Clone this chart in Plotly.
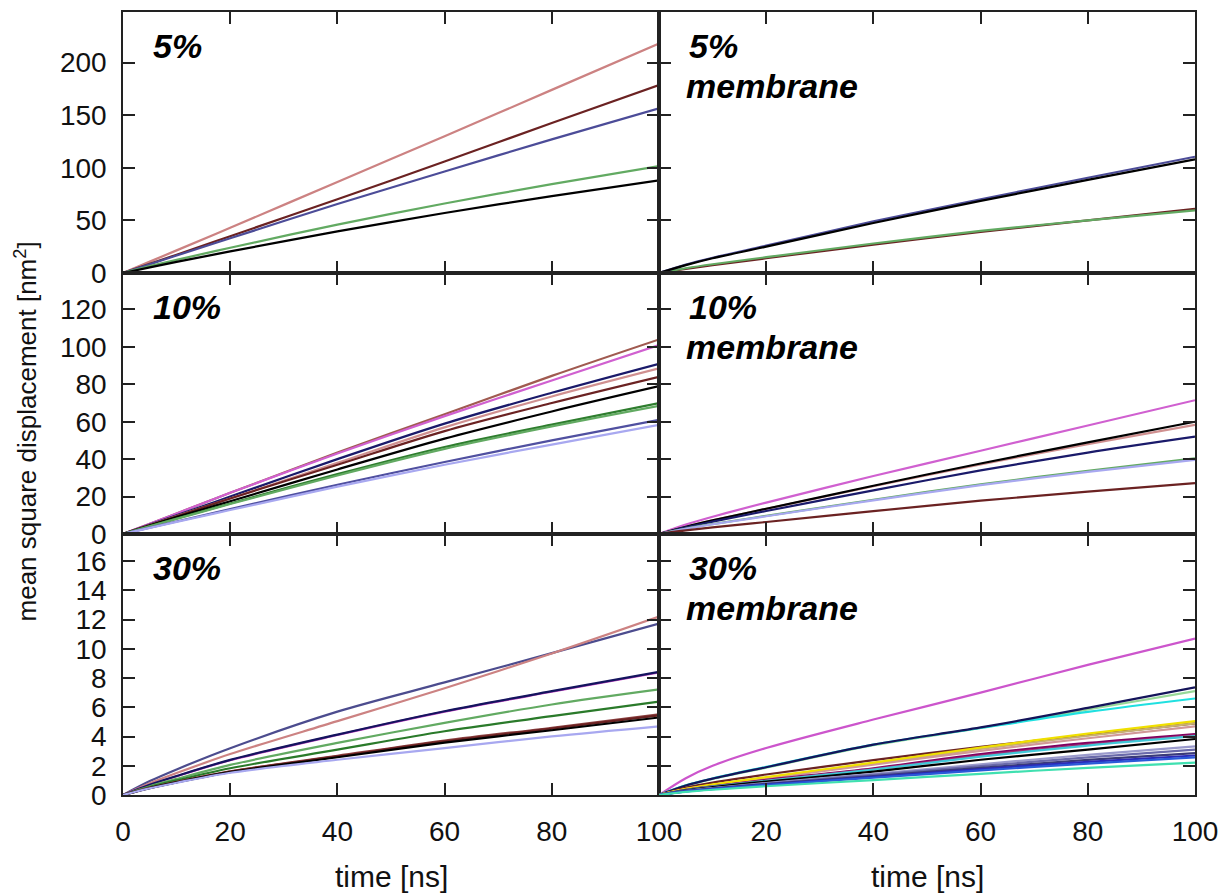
import plotly.graph_objects as go
from plotly.subplots import make_subplots

# Sampling times (ns) shared by every curve
t_ns = [0, 5, 10, 20, 40, 60, 80, 100]

# 5 %
colors_5 = ["#cc8282", "#6b2222", "#4c4c98", "#62aa62", "#000000"]
msd_5 = [
    [0, 10.8, 21.5, 43, 86.5, 130, 174, 218],
    [0, 8.7, 17.4, 35, 70, 106, 142.5, 178.5],
    [0, 8.3, 16.6, 33, 65.5, 96.5, 127, 156.5],
    [0, 6.5, 12.5, 24, 46, 66, 84.5, 101.5],
    [0, 5.3, 10.5, 20.5, 39.5, 57, 73, 88],
]

# 5 % membrane
colors_5m = ["#6b2222", "#62aa62", "#4c4c98", "#000000"]
msd_5m = [
    [0, 4, 7.5, 14, 27, 39, 50, 61],
    [0, 4.5, 8.3, 15, 28, 40, 50, 59.5],
    [0, 8, 14.5, 26, 49, 70, 90.5, 110.5],
    [0, 7.5, 14, 25, 47.5, 68.5, 88.5, 108],
]

# 10 %
colors_10 = ["#a05a50", "#d060d0", "#1a1a6a", "#d09090", "#6b2222",
             "#000000", "#2e7d2e", "#62aa62", "#5050a0", "#a8a8f0"]
msd_10 = [
    [0, 5.5, 11, 22, 43.5, 64, 84.5, 104],
    [0, 5.5, 11, 22, 43, 63, 82, 101],
    [0, 5, 10, 20, 40, 59, 75.5, 91],
    [0, 4.8, 9.6, 19, 38, 57, 73.5, 88.5],
    [0, 4.8, 9.5, 19, 37, 55, 70, 84],
    [0, 4.5, 9, 17.5, 34.5, 51, 65.5, 79],
    [0, 4.2, 8.3, 16.3, 32, 46.5, 58.5, 70],
    [0, 4.1, 8.1, 16, 31.3, 45.5, 57.5, 68.5],
    [0, 3.4, 6.7, 13.3, 26.3, 38.5, 50, 61],
    [0, 3.3, 6.5, 12.8, 25.3, 37, 47.8, 58.3],
]

# 10 % membrane
colors_10m = ["#d060d0", "#d09090", "#000000", "#1a1a6a",
              "#62aa62", "#a8a8f0", "#6b2222"]
msd_10m = [
    [0, 5, 9.2, 16.8, 31, 44.5, 58, 71.5],
    [0, 3.9, 7.3, 13.4, 25.5, 37.2, 48, 58.3],
    [0, 3.9, 7.3, 13.5, 25.8, 37.7, 49, 60],
    [0, 3.6, 6.6, 12.3, 23.3, 34, 43.5, 52],
    [0, 2.9, 5.3, 9.7, 18.3, 26.5, 33.8, 40.4],
    [0, 2.8, 5.2, 9.5, 18, 26.1, 33.2, 39.6],
    [0, 1.9, 3.5, 6.4, 12.2, 17.8, 22.6, 27.2],
]

# 30 %
colors_30 = ["#4c4c8e", "#cc8282", "#c040c0", "#14145e", "#62aa62",
             "#2a7a2a", "#8b4040", "#6b2222", "#000000", "#a8a8f0"]
msd_30 = [
    [0, 0.95, 1.75, 3.2, 5.7, 7.7, 9.7, 11.72],
    [0, 0.8, 1.5, 2.8, 5.05, 7.3, 9.68, 12.2],
    [0, 0.69, 1.28, 2.38, 4.1, 5.7, 7.06, 8.38],
    [0, 0.7, 1.3, 2.4, 4.13, 5.73, 7.1, 8.42],
    [0, 0.6, 1.1, 2.06, 3.56, 4.93, 6.19, 7.22],
    [0, 0.55, 1.0, 1.83, 3.1, 4.36, 5.39, 6.38],
    [0, 0.5, 0.9, 1.62, 2.68, 3.72, 4.6, 5.52],
    [0, 0.48, 0.88, 1.6, 2.64, 3.67, 4.54, 5.44],
    [0, 0.47, 0.86, 1.56, 2.58, 3.58, 4.43, 5.3],
    [0, 0.46, 0.84, 1.52, 2.41, 3.21, 4.01, 4.7],
]

# 30 % membrane
colors_30m = ["#cc55cc", "#98d898", "#20e0e0", "#14145a", "#6b2323",
              "#c8b070", "#d09898", "#f0e000", "#800060", "#a0286e",
              "#40c8d8", "#000000", "#9a9acc", "#6a6aaa", "#3a3a7a",
              "#2a2ab8", "#2a5ad8", "#40e0b0"]
msd_30m = [
    [0, 1.15, 2.0, 3.21, 5.16, 7.0, 8.9, 10.7],
    [0, 0.64, 1.1, 1.87, 3.4, 4.58, 5.85, 7.11],
    [0, 0.66, 1.13, 1.92, 3.44, 4.58, 5.68, 6.6],
    [0, 0.65, 1.12, 1.9, 3.44, 4.62, 5.96, 7.36],
    [0, 0.5, 0.85, 1.4, 2.38, 3.3, 4.1, 4.9],
    [0, 0.41, 0.7, 1.18, 2.15, 3.15, 4.05, 4.9],
    [0, 0.4, 0.68, 1.14, 2.08, 3.02, 3.88, 4.7],
    [0, 0.42, 0.72, 1.22, 2.22, 3.25, 4.2, 5.05],
    [0, 0.36, 0.6, 1.03, 1.83, 2.8, 3.56, 4.17],
    [0, 0.35, 0.58, 1.0, 1.78, 2.7, 3.45, 4.08],
    [0, 0.34, 0.57, 0.97, 1.74, 2.62, 3.38, 4.02],
    [0, 0.32, 0.54, 0.92, 1.6, 2.41, 3.1, 3.83],
    [0, 0.28, 0.48, 0.82, 1.45, 2.1, 2.75, 3.33],
    [0, 0.27, 0.46, 0.78, 1.38, 1.98, 2.57, 3.1],
    [0, 0.26, 0.44, 0.75, 1.3, 1.86, 2.4, 2.87],
    [0, 0.25, 0.42, 0.71, 1.24, 1.77, 2.27, 2.7],
    [0, 0.24, 0.4, 0.68, 1.18, 1.68, 2.15, 2.57],
    [0, 0.21, 0.36, 0.6, 1.02, 1.45, 1.86, 2.22],
]

row_ranges = [[0, 248], [0, 139.5], [0, 17.85]]
row_ticks = [
    [0, 50, 100, 150, 200],
    [0, 20, 40, 60, 80, 100, 120],
    [0, 2, 4, 6, 8, 10, 12, 14, 16],
]
x_ticks = [0, 20, 40, 60, 80, 100]
panel_labels = [("5%", False), ("5%", True), ("10%", False),
                ("10%", True), ("30%", False), ("30%", True)]

panels = [
    (1, 1, colors_5, msd_5), (1, 2, colors_5m, msd_5m),
    (2, 1, colors_10, msd_10), (2, 2, colors_10m, msd_10m),
    (3, 1, colors_30, msd_30), (3, 2, colors_30m, msd_30m),
]

FONT = "Liberation Sans, Arial, sans-serif"
AXIS_COLOR = "#222222"

fig = make_subplots(rows=3, cols=2, horizontal_spacing=0, vertical_spacing=0)

for row, col, colors, series in panels:
    for c, y in zip(colors, series):
        fig.add_trace(
            go.Scatter(x=t_ns, y=y, mode="lines",
                       line=dict(color=c, width=2.2, shape="spline", smoothing=0.9),
                       showlegend=False, hoverinfo="skip"),
            row=row, col=col,
        )

for row in (1, 2, 3):
    for col in (1, 2):
        fig.update_yaxes(
            range=row_ranges[row - 1], tickvals=row_ticks[row - 1],
            showticklabels=(col == 1), ticks="inside", ticklen=12, tickwidth=1.5,
            tickcolor=AXIS_COLOR, showline=True, linecolor=AXIS_COLOR, linewidth=1.5,
            mirror="allticks", showgrid=False, zeroline=False, automargin=False,
            tickfont=dict(family=FONT, size=28, color="#111111"), ticklabelstandoff=9,
            row=row, col=col,
        )
        if row == 3 and col == 2:
            xl = [""] + [str(v) for v in x_ticks[1:]]
        else:
            xl = [str(v) for v in x_ticks]
        fig.update_xaxes(
            range=[0, 100], tickvals=x_ticks, ticktext=xl,
            showticklabels=(row == 3), ticks="inside", ticklen=12, tickwidth=1.5,
            tickcolor=AXIS_COLOR, showline=True, linecolor=AXIS_COLOR, linewidth=1.5,
            mirror="allticks", showgrid=False, zeroline=False, automargin=False,
            tickfont=dict(family=FONT, size=28, color="#111111"), ticklabelstandoff=11,
            ticklabeloverflow="allow",
            row=row, col=col,
        )

# Panel captions
annotations = []
for i, (label, membrane) in enumerate(panel_labels):
    ref = "" if i == 0 else str(i + 1)
    annotations.append(dict(
        x=0.053, y=0.868, xref=f"x{ref} domain", yref=f"y{ref} domain",
        text=f"<b><i>{label}</i></b>", showarrow=False, xanchor="left", yanchor="middle",
        font=dict(family=FONT, size=34, color="#000000"),
    ))
    if membrane:
        annotations.append(dict(
            x=0.046, y=0.715, xref=f"x{ref} domain", yref=f"y{ref} domain",
            text="<b><i>membrane</i></b>", showarrow=False, xanchor="left", yanchor="middle",
            font=dict(family=FONT, size=34, color="#000000"),
        ))

# Axis titles, placed relative to the bottom / middle subplots
for xr in ("x5", "x6"):
    annotations.append(dict(
        x=0.5, y=-0.314, xref=f"{xr} domain", yref="y5 domain",
        text="time [ns]", showarrow=False, xanchor="center", yanchor="middle",
        font=dict(family=FONT, size=30, color="#111111"),
    ))
annotations.append(dict(
    x=-0.18, y=0.391, xref="x3 domain", yref="y3 domain",
    text="mean square displacement [nm<sup>2</sup>]", showarrow=False, textangle=-90,
    xanchor="center", yanchor="middle",
    font=dict(family=FONT, size=26, color="#111111"),
))

fig.update_layout(
    width=1222, height=896,
    margin=dict(l=123, r=27, t=12, b=101, autoexpand=False),
    paper_bgcolor="white", plot_bgcolor="white",
    annotations=annotations,
)

fig.write_html("out.html")
